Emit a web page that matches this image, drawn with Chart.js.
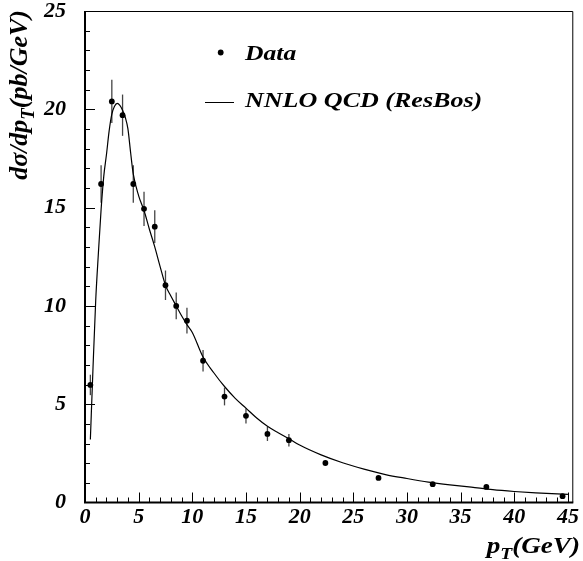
<!DOCTYPE html>
<html><head><meta charset="utf-8">
<script src="https://cdn.jsdelivr.net/npm/chart.js@4"></script>
<style>html,body{margin:0;padding:0;background:#fff;}#c{display:block;}</style>
</head><body>
<canvas id="c" width="583" height="561"></canvas>
<script>
// ---- data ----
const ptData  = [0.5, 1.5, 2.5, 3.5, 4.5, 5.5, 6.5, 7.5, 8.5, 9.5, 11, 13, 15, 17, 19, 22.4, 27.35, 32.4, 37.4, 44.5];
const sigData = [5.98, 16.2, 20.4, 19.7, 16.2, 14.94, 14.03, 11.05, 10.0, 9.25, 7.21, 5.39, 4.41, 3.49, 3.17, 2.01, 1.25, 0.93, 0.79, 0.32];
const sigErr  = [0.52, 0.95, 1.1, 1.05, 0.95, 0.87, 0.83, 0.75, 0.68, 0.66, 0.55, 0.45, 0.39, 0.36, 0.32, 0.1, 0.08, 0.06, 0.05, 0.05];

const ptCurve  = [0.5, 0.75, 1, 1.25, 1.5, 1.75, 2, 2.25, 2.5, 2.75, 3, 3.25, 3.5, 3.75, 4, 4.25, 4.5, 5, 5.5, 6, 6.5, 7, 7.5, 8, 8.5, 9, 9.5, 10, 11, 12, 13, 14, 15, 16, 17, 18, 19, 20, 22, 24, 26, 28, 30, 32, 34, 36, 38, 40, 42, 45];
const sigCurve = [3.2, 6.9, 10.3, 12.7, 14.9, 16.6, 17.7, 18.9, 19.75, 20.15, 20.3, 20.2, 19.95, 19.6, 19.0, 17.8, 16.7, 15.6, 14.85, 13.9, 13.0, 12.0, 11.05, 10.5, 10.0, 9.5, 9.05, 8.65, 7.4, 6.6, 5.9, 5.3, 4.8, 4.3, 3.88, 3.55, 3.25, 2.92, 2.42, 2.02, 1.7, 1.42, 1.22, 1.04, 0.9, 0.78, 0.65, 0.56, 0.49, 0.41];

const xTicks = [0, 5, 10, 15, 20, 25, 30, 35, 40, 45];
const yTicks = [0, 5, 10, 15, 20, 25];
const labels = ['Data', 'NNLO QCD (ResBos)'];

const FONT = '"Liberation Serif", "DejaVu Serif", serif';

function richWidth(ctx, parts, size) {
  let w = 0;
  for (const p of parts) {
    ctx.font = 'italic bold ' + (p.sub ? size * 0.72 : size) + 'px ' + FONT;
    w += ctx.measureText(p.t).width;
  }
  return w;
}
function drawRich(ctx, parts, x, y, size) {
  let cx = x;
  for (const p of parts) {
    const s = p.sub ? size * 0.72 : size;
    ctx.font = 'italic bold ' + s + 'px ' + FONT;
    ctx.fillText(p.t, cx, p.sub ? y + size * 0.28 : y);
    cx += ctx.measureText(p.t).width;
  }
}
// text stretched horizontally (reference font is wider than Times)
function stretchedText(ctx, text, x, y, size, sx) {
  ctx.save();
  ctx.translate(x, y);
  ctx.scale(sx, 1);
  ctx.font = 'italic bold ' + size + 'px ' + FONT;
  ctx.fillText(text, 0, 0);
  ctx.restore();
}

const errorBars = {
  id: 'errorBars',
  beforeDatasetsDraw(chart) {
    const { ctx, scales: { x, y } } = chart;
    ctx.save();
    ctx.strokeStyle = '#444';
    ctx.lineWidth = 1.3;
    ptData.forEach((px, i) => {
      const xp = x.getPixelForValue(px);
      ctx.beginPath();
      ctx.moveTo(xp, y.getPixelForValue(sigData[i] - sigErr[i]));
      ctx.lineTo(xp, y.getPixelForValue(sigData[i] + sigErr[i]));
      ctx.stroke();
    });
    ctx.restore();
  }
};

const frame = {
  id: 'frame',
  afterDraw(chart) {
    const { ctx, chartArea: a, scales: { x, y } } = chart;
    ctx.save();
    ctx.strokeStyle = '#000';
    ctx.lineWidth = 1;
    ctx.beginPath();
    ctx.moveTo(a.left, a.top + 0.5); ctx.lineTo(a.right - 0.5, a.top + 0.5); ctx.lineTo(a.right - 0.5, a.bottom);
    ctx.stroke();
    ctx.lineWidth = 2;
    ctx.beginPath();
    ctx.moveTo(a.left, a.top); ctx.lineTo(a.left, a.bottom); ctx.lineTo(a.right, a.bottom);
    ctx.stroke();
    ctx.lineWidth = 1;
    for (let v = 1; v <= 45; v++) {
      const xp = Math.round(x.getPixelForValue(v)) + 0.5;
      const len = v % 5 === 0 ? 10 : 5;
      ctx.beginPath(); ctx.moveTo(xp, a.bottom); ctx.lineTo(xp, a.bottom - len); ctx.stroke();
    }
    for (let v = 1; v < 25; v++) {
      const yp = Math.round(y.getPixelForValue(v)) + 0.5;
      const len = v % 5 === 0 ? 10 : 5;
      ctx.beginPath(); ctx.moveTo(a.left, yp); ctx.lineTo(a.left + len, yp); ctx.stroke();
    }
    ctx.fillStyle = '#000';
    ctx.textAlign = 'left';
    ctx.textBaseline = 'alphabetic';
    // y title (rotated, top aligned)
    const yParts = [{ t: 'dσ/dp' }, { t: 'T', sub: true }, { t: '(pb/GeV)' }];
    const ys = 25;
    const wy = richWidth(ctx, yParts, ys) * 1.04;
    ctx.save();
    ctx.translate(27, a.top - 1);
    ctx.rotate(-Math.PI / 2);
    ctx.scale(1.04, 1);
    drawRich(ctx, yParts, -wy / 1.04, 0, ys);
    ctx.restore();
    // x title (bottom right)
    const xParts = [{ t: 'p' }, { t: 'T', sub: true }, { t: '(GeV)' }];
    const xs = 23, sxx = 1.18;
    const wx = richWidth(ctx, xParts, xs) * sxx;
    ctx.save();
    ctx.translate(580 - wx, 553);
    ctx.scale(sxx, 1);
    drawRich(ctx, xParts, 0, 0, xs);
    ctx.restore();
    // legend
    ctx.beginPath();
    ctx.arc(220.7, 52.5, 2.9, 0, Math.PI * 2);
    ctx.fill();
    ctx.lineWidth = 1;
    ctx.beginPath(); ctx.moveTo(205, 102.5); ctx.lineTo(234, 102.5); ctx.stroke();
    stretchedText(ctx, chart.data.datasets[0].label, 245, 60, 21, 1.22);
    stretchedText(ctx, chart.data.datasets[1].label, 245, 107, 21, 1.24);
    ctx.restore();
  }
};

const tickFont = { family: FONT, size: 22, style: 'italic', weight: 'bold', lineHeight: 1 };

new Chart(document.getElementById('c'), {
  type: 'scatter',
  data: {
    datasets: [
      {
        label: labels[0],
        data: ptData.map((v, i) => ({ x: v, y: sigData[i] })),
        backgroundColor: '#000', borderColor: '#000',
        pointRadius: 2.9, pointHoverRadius: 2.9, pointBorderWidth: 0
      },
      {
        type: 'line',
        label: labels[1],
        data: ptCurve.map((v, i) => ({ x: v, y: sigCurve[i] })),
        borderColor: '#000', borderWidth: 1.2, pointRadius: 0,
        cubicInterpolationMode: 'monotone', fill: false
      }
    ]
  },
  options: {
    responsive: false, animation: false, devicePixelRatio: 1,
    layout: { padding: { top: 11, right: 7, left: 0, bottom: 0 } },
    plugins: { legend: { display: false }, tooltip: { enabled: false } },
    scales: {
      x: {
        type: 'linear', min: 0, max: 45.5,
        grid: { display: false, drawTicks: false }, border: { display: false },
        afterBuildTicks: s => { s.ticks = xTicks.map(v => ({ value: v })); },
        afterFit: s => { s.height = 58.5; },
        ticks: { padding: 4, color: '#000', font: tickFont, maxRotation: 0, autoSkip: false }
      },
      y: {
        type: 'linear', min: 0, max: 25,
        grid: { display: false, drawTicks: true, tickLength: 19 }, border: { display: false },
        afterBuildTicks: s => { s.ticks = yTicks.map(v => ({ value: v })); },
        afterFit: s => { s.width = 85; },
        ticks: { padding: 0, color: '#000', font: tickFont }
      }
    }
  },
  plugins: [errorBars, frame]
});
</script>
</body></html>
